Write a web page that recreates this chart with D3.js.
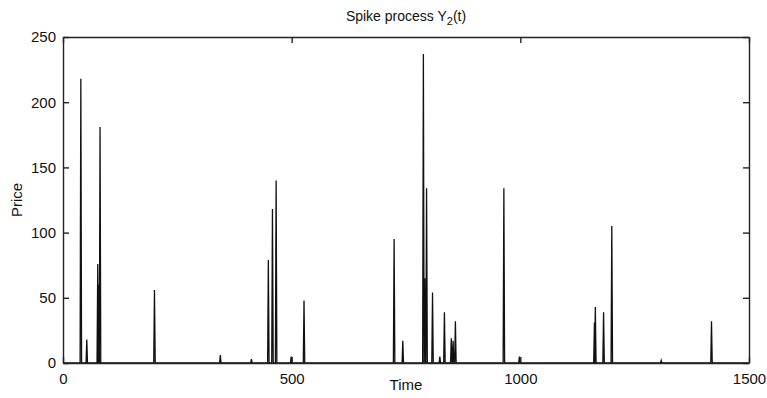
<!DOCTYPE html>
<html>
<head>
<meta charset="utf-8">
<script src="https://cdn.jsdelivr.net/npm/d3@7"></script>
<style>
  body { margin: 0; background: #fff; }
  svg { display: block; font-family: "Liberation Sans", Arial, sans-serif; }
</style>
</head>
<body>
<div id="chart"></div>
<script>
// spike times and heights
const spikeTimes  = [39, 52, 76, 78, 81, 200, 344, 412, 449, 458, 466, 499, 527,
                     724, 743, 788, 791, 795, 808, 824, 834, 849, 853, 858, 964, 998,
                     1162, 1164, 1182, 1200, 1308, 1418];
const spikeValues = [218, 18, 76, 60, 181, 56, 6, 3, 79, 118, 140, 5, 48,
                     95, 17, 237, 65, 134, 54, 5, 39, 19, 17, 32, 134, 5,
                     31, 43, 39, 105, 2, 32];
const xTicks = [0, 500, 1000, 1500];
const yTicks = [0, 50, 100, 150, 200, 250];

const width = 767, height = 398;
const margin = { top: 37, right: 18, bottom: 35, left: 63 };

const svg = d3.select("#chart").append("svg")
    .attr("width", width)
    .attr("height", height);

const x = d3.scaleLinear().domain([0, 1500]).range([margin.left, width - margin.right]);
const y = d3.scaleLinear().domain([0, 250]).range([height - margin.bottom, margin.top]);

// each spike drawn as a narrow peak rising from the zero line
const halfWidth = 1.6;
const points = [[0, 0]];
spikeTimes.forEach((t, i) => {
    points.push([t - halfWidth, 0], [t, spikeValues[i]], [t + halfWidth, 0]);
});
points.push([1500, 0]);

const line = d3.line().x(d => x(d[0])).y(d => y(d[1]));

svg.append("path")
    .datum(points)
    .attr("fill", "none")
    .attr("stroke", "#111")
    .attr("stroke-width", 1.3)
    .attr("d", line);

const tickLen = 6;
const fmt = d3.format("d");

// bottom axis, ticks pointing in
const gx = svg.append("g")
    .attr("transform", `translate(0,${y(0)})`)
    .call(d3.axisBottom(x).tickValues(xTicks).tickFormat(fmt)
        .tickSizeInner(-tickLen).tickSizeOuter(0).tickPadding(10));

// top axis, no labels
const gxt = svg.append("g")
    .attr("transform", `translate(0,${y(250)})`)
    .call(d3.axisTop(x).tickValues(xTicks).tickSizeInner(-tickLen).tickSizeOuter(0).tickFormat(""));

// left axis
const gy = svg.append("g")
    .attr("transform", `translate(${x(0)},0)`)
    .call(d3.axisLeft(y).tickValues(yTicks).tickFormat(fmt)
        .tickSizeInner(-tickLen).tickSizeOuter(0).tickPadding(7));

// right axis, no labels
const gyr = svg.append("g")
    .attr("transform", `translate(${x(1500)},0)`)
    .call(d3.axisRight(y).tickValues(yTicks).tickSizeInner(-tickLen).tickSizeOuter(0).tickFormat(""));

[gx, gxt, gy, gyr].forEach(g => {
    g.selectAll("path, line").attr("stroke", "#222").attr("stroke-width", 1.4);
    g.selectAll("text").attr("fill", "#111").style("font-size", "15px");
});

svg.append("text")
    .attr("x", (x(0) + x(1500)) / 2)
    .attr("y", 21)
    .attr("text-anchor", "middle")
    .style("font-size", "14px")
    .attr("fill", "#111")
    .html('Spike process Y<tspan dy="4" font-size="11px">2</tspan><tspan dy="-4">(t)</tspan>');

svg.append("text")
    .attr("x", (x(0) + x(1500)) / 2)
    .attr("y", 390)
    .attr("text-anchor", "middle")
    .style("font-size", "15px")
    .attr("fill", "#111")
    .text("Time");

svg.append("text")
    .attr("transform", `translate(22,${(y(0) + y(250)) / 2}) rotate(-90)`)
    .attr("text-anchor", "middle")
    .style("font-size", "15px")
    .attr("fill", "#111")
    .text("Price");
</script>
</body>
</html>
